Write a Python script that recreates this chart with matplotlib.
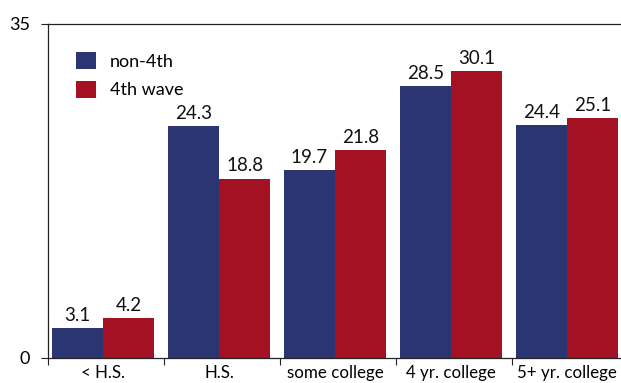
import matplotlib
matplotlib.use("Agg")
import matplotlib.pyplot as plt
import numpy as np

categories = ["< H.S.", "H.S.", "some college", "4 yr. college", "5+ yr. college"]
non_4th = [3.1, 24.3, 19.7, 28.5, 24.4]
wave_4th = [4.2, 18.8, 21.8, 30.1, 25.1]
series_names = ["non-4th", "4th wave"]

BLUE = "#2b3572"
RED = "#a31123"

plt.rcParams["font.family"] = ["Lato", "DejaVu Sans"]

fig = plt.figure(figsize=(6.21, 3.83), dpi=100)
W, H = 621, 383
left, right, bottom, top = 48, 628, 358, 24
ax = fig.add_axes([left / W, 1 - bottom / H, (right - left) / W, (bottom - top) / H])

x = np.arange(len(categories))
bw = 0.44
shift = -0.026
b1 = ax.bar(x + shift - bw / 2, non_4th, bw, color=BLUE, label=series_names[0])
b2 = ax.bar(x + shift + bw / 2, wave_4th, bw, color=RED, label=series_names[1])

for bars, vals in ((b1, non_4th), (b2, wave_4th)):
    for rect, v in zip(bars, vals):
        ax.annotate(f"{v:.1f}", (rect.get_x() + rect.get_width() / 2, v),
                    xytext=(0, 3), textcoords="offset points",
                    ha="center", va="bottom", fontsize=13.5, color="#111111")

ax.set_xlim(-0.5, len(categories) - 0.5)
ax.set_ylim(0, 35)
ax.set_yticks([0, 35])
ax.set_yticklabels(["0", "35"], fontsize=13)

# category labels centered, tick marks at boundaries
ax.set_xticks(np.arange(len(categories) + 1) - 0.5)
ax.set_xticklabels([])
ax.set_xticks(x + shift, minor=True)
ax.set_xticklabels(categories, minor=True, fontsize=12.2)
ax.tick_params(axis="x", which="minor", length=0, pad=5)
ax.tick_params(axis="x", which="major", length=5, direction="out", width=0.8, color="#222222")
ax.tick_params(axis="y", length=5, direction="out", width=0.8, color="#222222", pad=8)

for s in ("left", "bottom", "top"):
    ax.spines[s].set_color("#222222")
    ax.spines[s].set_linewidth(0.9)
ax.spines["right"].set_visible(False)

leg = ax.legend(loc="upper left", bbox_to_anchor=(0.02, 0.965), frameon=False,
                fontsize=13, handlelength=1.1, handleheight=1.1,
                handletextpad=0.8, labelspacing=0.6)

fig.savefig("out.png", dpi=100)
